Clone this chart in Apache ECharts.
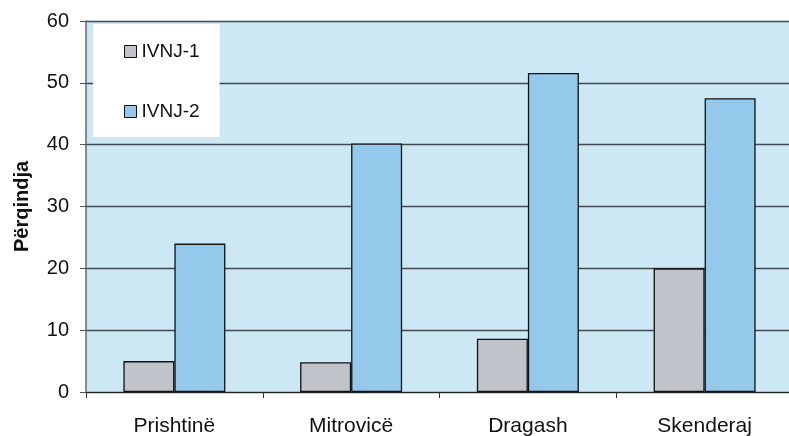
<!DOCTYPE html>
<html><head><meta charset="utf-8">
<script src="https://cdn.jsdelivr.net/npm/echarts@6/dist/echarts.min.js"></script>
<style>html,body{margin:0;padding:0;background:#fff}#c{width:789px;height:436px}</style>
</head><body><div id="c"></div>
<script>
const categories = ['Prishtinë', 'Mitrovicë', 'Dragash', 'Skenderaj'];
const ivnj1 = [5.0, 4.8, 8.6, 20.0];
const ivnj2 = [24.0, 40.2, 51.6, 47.5];
const yTicks = {min: 0, max: 60, interval: 10};

const chart = echarts.init(document.getElementById('c'), null, {renderer: 'canvas'});
const font = '"Liberation Sans", Arial, sans-serif';
chart.setOption({
  animation: false,
  textStyle: {fontFamily: font},
  grid: {left: 86, top: 21, width: 707, bottom: 44, show: true, backgroundColor: '#cce8f4', borderWidth: 0,
         containLabel: false, outerBoundsMode: 'none'},
  legend: {
    orient: 'vertical', left: 93, top: 24,
    backgroundColor: '#ffffff',
    padding: [18, 20, 16, 31],
    itemWidth: 12, itemHeight: 12, itemGap: 41,
    textStyle: {fontSize: 19, color: '#111', fontFamily: font},
    data: [
      {name: 'IVNJ-1', icon: 'rect', itemStyle: {color: '#c0c3ca', borderColor: '#111', borderWidth: 1}},
      {name: 'IVNJ-2', icon: 'rect', itemStyle: {color: '#95c9ec', borderColor: '#111', borderWidth: 1}}
    ]
  },
  xAxis: {
    type: 'category', data: categories,
    axisLine: {lineStyle: {color: '#222', width: 1}},
    axisTick: {show: true, length: 6, lineStyle: {color: '#333'}},
    axisLabel: {fontSize: 21, color: '#111', margin: 24, fontFamily: font}
  },
  yAxis: {
    type: 'value', min: yTicks.min, max: yTicks.max, interval: yTicks.interval,
    name: 'Përqindja', nameLocation: 'middle', nameRotate: 90, nameGap: 54,
    nameTextStyle: {fontSize: 20, fontWeight: 'bold', color: '#111', fontFamily: font},
    axisLine: {show: true, lineStyle: {color: '#666', width: 1.5}},
    axisTick: {show: true, length: 6, lineStyle: {color: '#555'}},
    axisLabel: {fontSize: 20, color: '#111', margin: 17, fontFamily: font},
    splitLine: {show: true, lineStyle: {color: '#3f4a50', width: 1.3}}
  },
  series: [
    {name: 'IVNJ-1', type: 'bar', data: ivnj1, barWidth: 51, barGap: '0%',
     itemStyle: {color: '#c0c3ca', borderColor: '#111', borderWidth: 1.3}},
    {name: 'IVNJ-2', type: 'bar', data: ivnj2, barWidth: 51, barGap: '0%',
     itemStyle: {color: '#95c9ec', borderColor: '#111', borderWidth: 1.3}}
  ]
});
</script></body></html>
